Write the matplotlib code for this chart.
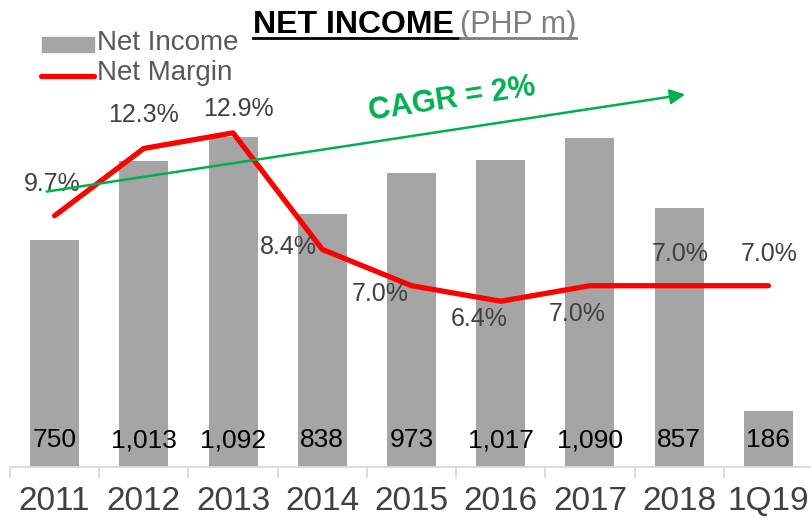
import matplotlib
matplotlib.use("Agg")
import matplotlib.pyplot as plt
import numpy as np

categories = ["2011", "2012", "2013", "2014", "2015", "2016", "2017", "2018", "1Q19"]
net_income = [750, 1013, 1092, 838, 973, 1017, 1090, 857, 186]
net_margin = [9.7, 12.3, 12.9, 8.4, 7.0, 6.4, 7.0, 7.0, 7.0]
income_labels = ["750", "1,013", "1,092", "838", "973", "1,017", "1,090", "857", "186"]
margin_labels = ["9.7%", "12.3%", "12.9%", "8.4%", "7.0%", "6.4%", "7.0%", "7.0%", "7.0%"]

# label offsets in pixels (dx, dy with y up)
margin_offsets = [(-2, 32), (0, 33), (5, 24), (-34, 2), (-31, -8), (-22, -18), (-13, -28), (1, 32), (1, 32)]

plt.rcParams['font.family'] = ['Liberation Sans', 'DejaVu Sans']
DPI = 100
W, H = 811, 519
fig = plt.figure(figsize=(W / DPI, H / DPI), dpi=DPI)

ax_left = 10 / W
ax_bottom = 52 / H
ax_w = 803 / W
ax_h = 467 / H
ax = fig.add_axes([ax_left, ax_bottom, ax_w, ax_h])
x = np.arange(len(categories))

ax.bar(x, net_income, width=0.55, color="#A5A5A5", zorder=2)
ax.set_xlim(-0.5, len(categories) - 0.5)
ax.set_ylim(0, 1546)
ax.set_yticks([])
for s in ["top", "right", "left"]:
    ax.spines[s].set_visible(False)
ax.spines["bottom"].set_color("#D9D9D9")
ax.spines["bottom"].set_linewidth(1.3)
ax.set_xticks(np.arange(-0.5, len(categories), 1.0))
ax.set_xticklabels([])
ax.tick_params(axis="x", which="major", length=8, color="#D9D9D9", width=1.3)
ax.set_xticks(x, minor=True)
ax.set_xticklabels(categories, minor=True, fontsize=24, color="#404040")
ax.tick_params(axis="x", which="minor", length=0, pad=14)

for xi, lab in zip(x, income_labels):
    ax.text(xi, 89, lab, ha="center", va="center", fontsize=19, color="#000000", zorder=5)

ax2 = ax.twinx()
ax2.set_ylim(0, 18.03)
ax2.set_axis_off()
ax2.plot(x, net_margin, color="#FF0000", linewidth=3.8, zorder=4, solid_capstyle="round")
for xi, v, lab, (dx, dy) in zip(x, net_margin, margin_labels, margin_offsets):
    ax2.annotate(lab, (xi, v), xytext=(dx * 72 / DPI, dy * 72 / DPI), textcoords="offset points",
                 ha="center", va="center", fontsize=18, color="#404040", zorder=6)

# CAGR arrow in figure pixel coords
def fx(px):
    return px / W
def fy(py):
    return 1 - py / H

fig.patches.append(matplotlib.patches.FancyArrowPatch(
    (fx(44), fy(192)), (fx(688), fy(94)), transform=fig.transFigure,
    arrowstyle="-|>,head_length=9,head_width=4.5", color="#00B050", linewidth=1.8, zorder=10))
fig.text(fx(452), fy(100), "CAGR = 2%", rotation=8.6, ha="center", va="center",
         fontsize=22, fontweight="bold", color="#00B050")

# Title
t1 = fig.text(fx(253), fy(33), "NET INCOME", ha="left", va="baseline", fontsize=23,
              fontweight="bold", color="#000000")
fig.canvas.draw()
r = fig.canvas.get_renderer()
bb = t1.get_window_extent(r)
t2 = fig.text(bb.x1 / W + fx(6), fy(33), "(PHP m)", ha="left", va="baseline", fontsize=22,
              color="#7F7F7F")
bb2 = t2.get_window_extent(r)
fig.add_artist(matplotlib.lines.Line2D([bb.x0 / W, bb.x1 / W + fx(6)], [fy(38), fy(38)],
                                       transform=fig.transFigure, color="#000000", linewidth=2))
fig.add_artist(matplotlib.lines.Line2D([bb.x1 / W + fx(6), bb2.x1 / W], [fy(38), fy(38)],
                                       transform=fig.transFigure, color="#7F7F7F", linewidth=2))

# Legend
fig.patches.append(matplotlib.patches.Rectangle((fx(42), fy(52)), fx(52), 15 / H,
                                                transform=fig.transFigure, color="#A5A5A5"))
fig.text(fx(97), fy(43), "Net Income", ha="left", va="center", fontsize=20, color="#595959")
fig.add_artist(matplotlib.lines.Line2D([fx(41), fx(94)], [fy(76), fy(76)], transform=fig.transFigure,
                                       color="#FF0000", linewidth=3.8, solid_capstyle="round"))
fig.text(fx(97), fy(73), "Net Margin", ha="left", va="center", fontsize=20, color="#595959")

fig.savefig("out.png", dpi=DPI)
